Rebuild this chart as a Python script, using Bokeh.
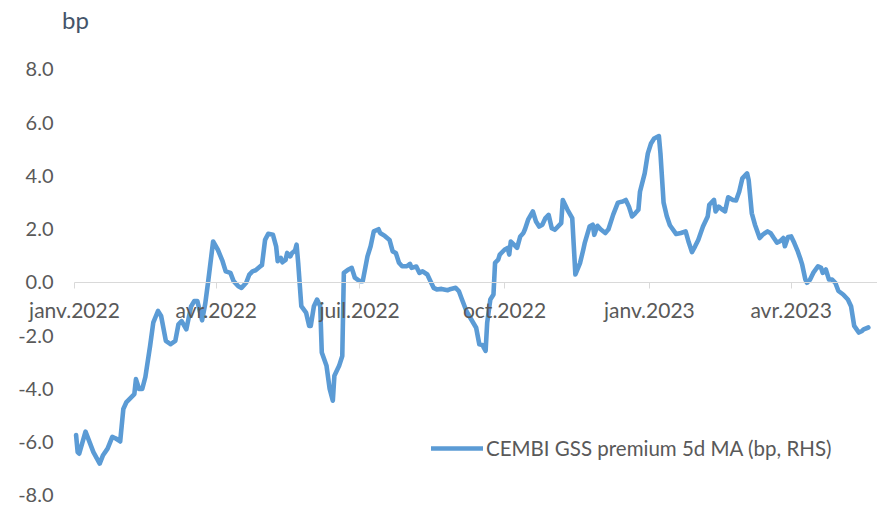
import pandas as pd
from bokeh.plotting import figure
from bokeh.models import (FixedTicker, NumeralTickFormatter, Label, Legend,
                          LegendItem, Range1d)
from bokeh.embed import file_html
from bokeh.resources import INLINE

# ---- data ----
start_date = "2022-01-01"
day_offset = [
    1, 2, 3, 7, 10, 12, 16, 18, 21, 24, 26, 29, 31, 33, 38, 39, 41, 43, 45, 48,
    50, 53, 55, 58, 61, 64, 66, 68, 71, 74, 76, 78, 81, 83, 85, 88, 91, 94, 96, 99,
    101, 104, 106, 109, 111, 113, 115, 118, 119, 121, 123, 126, 128, 129, 131, 132, 134, 135, 137, 138,
    140, 141, 142, 144, 147, 149, 150, 152, 154, 156, 157, 160, 162, 164, 165, 168, 170, 171, 174, 176,
    178, 181, 183, 186, 188, 190, 193, 194, 197, 200, 202, 204, 206, 208, 211, 213, 214, 217, 219, 221,
    224, 226, 228, 230, 233, 237, 239, 242, 244, 246, 249, 252, 255, 257, 259, 261, 262, 264, 266, 267,
    269, 270, 273, 275, 276, 277, 279, 281, 283, 285, 286, 288, 291, 293, 295, 297, 299, 301, 303, 305,
    309, 310, 313, 316, 317, 318, 321, 323, 324, 327, 329, 330, 332, 334, 337, 339, 342, 345, 348, 350,
    352, 354, 356, 358, 359, 362, 364, 366, 368, 371, 372, 374, 376, 378, 382, 385, 388, 390, 392, 394,
    396, 399, 402, 403, 406, 407, 409, 411, 413, 415, 418, 420, 422, 424, 427, 428, 430, 432, 435, 437,
    440, 442, 444, 446, 448, 450, 451, 453, 455, 457, 459, 461, 462, 464, 465, 467, 469, 472, 474, 475,
    477, 479, 481, 483, 485, 488, 491, 493, 495, 498, 500, 501, 504,
]
premium = [
    -5.73, -6.37, -6.43, -5.60, -6.06, -6.37, -6.80, -6.50, -6.24, -5.80, -5.85, -5.97, -4.75, -4.49, -4.19, -3.63, -4.00, -4.00, -3.55, -2.38,
    -1.51, -1.07, -1.26, -2.19, -2.32, -2.19, -1.57, -1.45, -1.76, -0.90, -0.70, -0.70, -1.42, -0.80, 0.10, 1.54, 1.23, 0.80, 0.42, 0.36,
    0.05, -0.14, -0.20, -0.01, 0.30, 0.42, 0.46, 0.61, 0.65, 1.60, 1.83, 1.79, 1.36, 0.80, 0.92, 0.76, 0.85, 1.11, 0.98, 1.10,
    1.20, 1.42, 0.74, -0.89, -1.13, -1.63, -1.63, -0.89, -0.64, -0.89, -2.63, -3.13, -4.00, -4.44, -3.50, -3.13, -2.76, 0.36, 0.49, 0.55,
    0.18, 0.05, 0.05, 0.98, 1.36, 1.92, 2.00, 1.86, 1.75, 1.60, 1.17, 1.11, 0.74, 0.61, 0.61, 0.70, 0.55, 0.60, 0.36, 0.42,
    0.30, 0.05, -0.20, -0.26, -0.24, -0.29, -0.24, -0.20, -0.32, -0.64, -1.10, -1.40, -1.70, -2.32, -2.35, -2.57, -1.51, -0.64, -0.45, 0.74,
    0.86, 1.05, 1.23, 1.30, 1.05, 1.54, 1.42, 1.30, 1.73, 1.86, 2.00, 2.36, 2.67, 2.29, 2.10, 2.17, 2.42, 2.54, 2.04, 1.98,
    2.23, 3.10, 2.73, 2.42, 1.36, 0.30, 0.74, 1.23, 1.50, 2.10, 2.17, 1.79, 2.13, 2.00, 1.86, 2.00, 2.55, 3.00, 3.04, 3.10,
    2.85, 2.48, 2.60, 2.73, 3.41, 4.10, 4.85, 5.22, 5.41, 5.50, 4.85, 3.00, 2.50, 2.15, 1.82, 1.86, 1.92, 1.50, 1.14, 1.36,
    1.60, 2.10, 2.48, 2.92, 3.10, 2.67, 2.85, 2.75, 2.67, 3.20, 3.10, 3.08, 3.41, 3.91, 4.10, 3.85, 2.60, 2.17, 1.67, 1.80,
    1.92, 1.85, 1.67, 1.50, 1.55, 1.67, 1.36, 1.71, 1.73, 1.48, 1.20, 0.86, 0.67, 0.11, -0.01, 0.11, 0.36, 0.61, 0.55, 0.36,
    0.49, 0.11, 0.11, -0.01, -0.32, -0.45, -0.64, -0.89, -1.63, -1.88, -1.82, -1.76, -1.69,
]
series_name = "CEMBI GSS premium 5d MA (bp, RHS)"
tick_dates = ["2022-01-01", "2022-04-01", "2022-07-01", "2022-10-01", "2023-01-01", "2023-04-01"]
tick_labels = ["janv.2022", "avr.2022", "juil.2022", "oct.2022", "janv.2023", "avr.2023"]
y_ticks = [-8, -6, -4, -2, 0, 2, 4, 6, 8]
unit_label = "bp"

# ---- build ----
t0 = pd.Timestamp(start_date)
dates = t0 + pd.to_timedelta(day_offset, unit="D")


def ms(ts):
    return float(pd.Timestamp(ts).value // 10**6)


DAY = 86400000.0
tick_ms = [ms(d) for d in tick_dates]
axis_start = ms(t0)
x_start = axis_start - 46.98 * DAY
x_end = axis_start + 509.8 * DAY

FONT = "Lato"
GREY = "#595959"
BLUE = "#5B9BD5"

p = figure(width=877, height=505, x_axis_type="datetime",
           output_backend="svg", toolbar_location=None,
           x_range=Range1d(x_start, x_end),
           y_range=Range1d(-8.3756, 10.5915),
           min_border_left=0, min_border_right=0,
           min_border_top=0, min_border_bottom=0)

p.background_fill_color = "white"
p.border_fill_color = "white"
p.outline_line_color = None
p.xgrid.visible = False
p.ygrid.visible = False

r = p.line(dates, premium, line_color=BLUE, line_width=4.6,
           line_join="round", line_cap="round")

# x axis drawn at y = 0
xa = p.xaxis[0]
xa.fixed_location = 0
xa.bounds = (axis_start, x_end)
xa.ticker = FixedTicker(ticks=tick_ms)
xa.major_label_overrides = dict(zip(tick_ms, tick_labels))
xa.minor_tick_line_color = None
xa.axis_line_color = "#D9D9D9"
xa.major_tick_line_color = "#D9D9D9"
xa.major_tick_in = 0
xa.major_tick_out = 6
xa.major_label_standoff = 9
xa.major_label_text_font = FONT
xa.major_label_text_font_size = "21px"
xa.major_label_text_color = GREY

# y axis labels drawn left of the first date
ya = p.yaxis[0]
ya.fixed_location = axis_start
ya.ticker = FixedTicker(ticks=y_ticks)
ya.formatter = NumeralTickFormatter(format="0.0")
ya.axis_line_color = None
ya.major_tick_line_color = None
ya.minor_tick_line_color = None
ya.major_tick_in = 0
ya.major_tick_out = 0
ya.major_label_standoff = 21
ya.major_label_text_font = FONT
ya.major_label_text_font_size = "20px"
ya.major_label_text_color = GREY

p.add_layout(Label(x=axis_start, y=9.878, x_offset=1, text=unit_label,
                   text_align="center", text_baseline="middle",
                   text_font=FONT, text_font_size="24px",
                   text_color="#44546A"))

legend = Legend(items=[LegendItem(label=series_name, renderers=[r])],
                location=(431, 45), orientation="vertical")
legend.border_line_color = None
legend.background_fill_alpha = 0
legend.padding = 0
legend.margin = 0
legend.spacing = 0
legend.glyph_width = 52
legend.glyph_height = 20
legend.label_height = 20
legend.label_standoff = 3
legend.label_text_font = FONT
legend.label_text_font_size = "20.5px"
legend.label_text_color = GREY
p.add_layout(legend)

open("out.html", "w").write(file_html(p, INLINE))
